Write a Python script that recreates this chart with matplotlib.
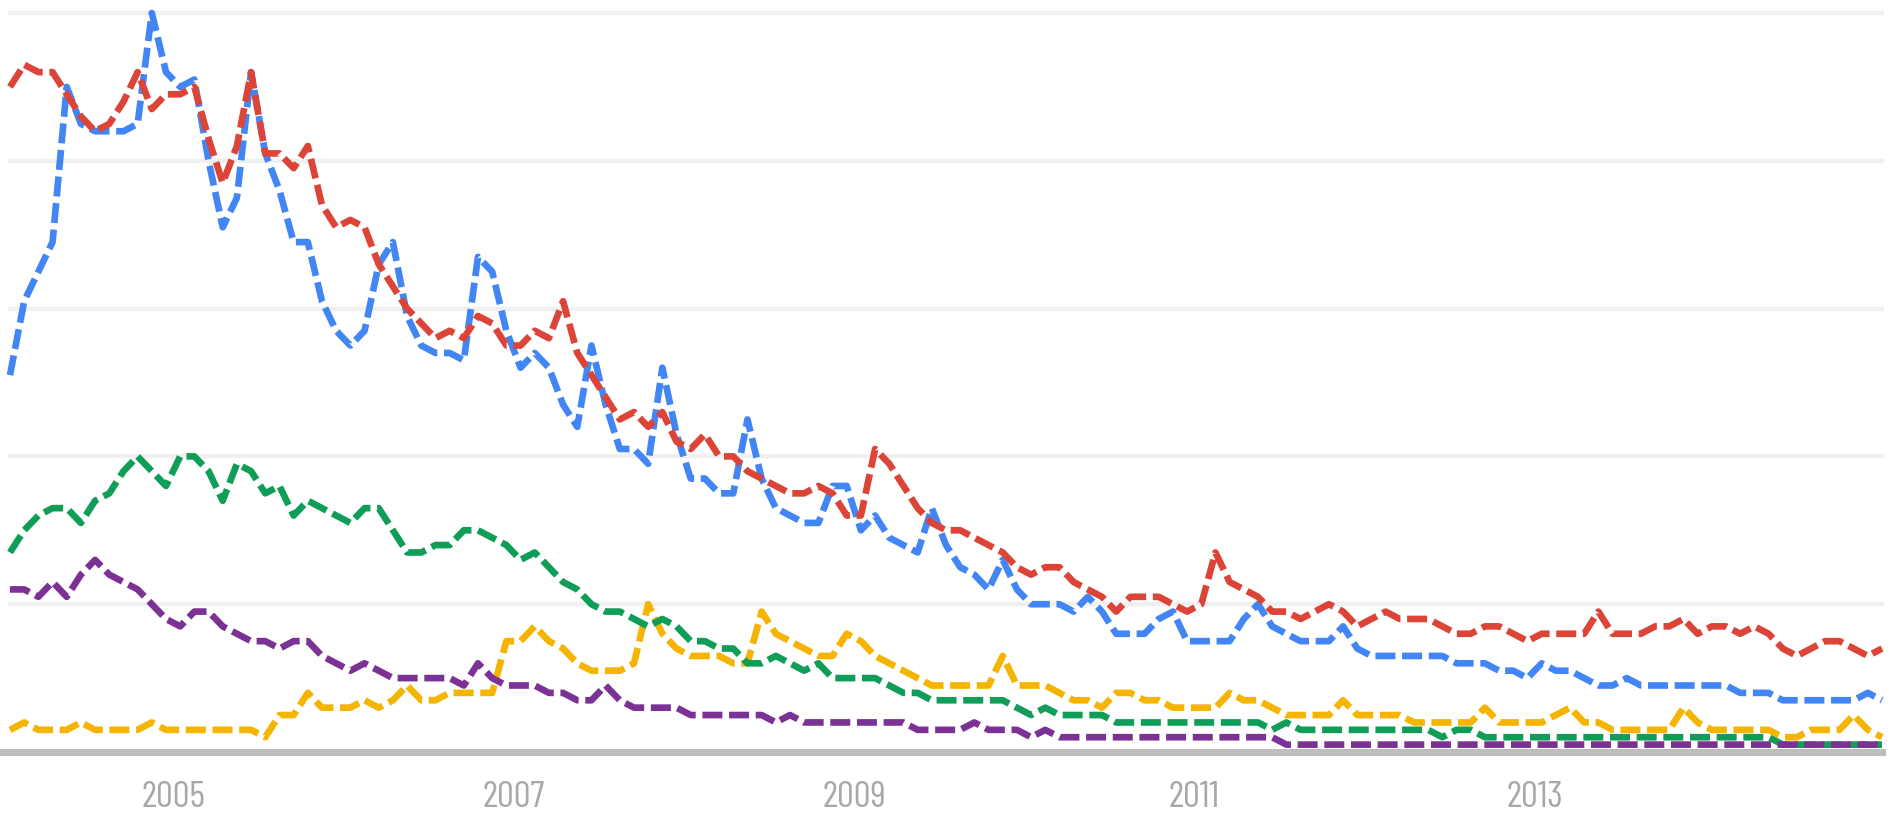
import matplotlib.pyplot as plt
import numpy as np

# monthly values, Jan 2004 .. Jan 2015 (133 points)
blue = [51, 61, 65, 69, 90, 85, 84, 84, 84, 85, 100, 92, 90, 91, 80, 71, 75, 92, 81, 76,
        69, 69, 61, 57, 55, 57, 66, 69, 59, 55, 54, 54, 53, 67, 65, 57, 52, 54, 52, 47,
        44, 55, 47, 41, 41, 39, 52, 43, 37, 37, 35, 35, 45, 37, 33, 32, 31, 31, 36, 36,
        30, 32, 29, 28, 27, 33, 28, 25, 24, 22, 26, 22, 20, 20, 20, 19, 21, 19, 16, 16,
        16, 18, 19, 15, 15, 15, 15, 18, 20, 17, 16, 15, 15, 15, 17, 14, 13, 13, 13, 13,
        13, 13, 12, 12, 12, 11, 11, 10, 12, 11, 11, 10, 9, 9, 10, 9, 9, 9, 9, 9,
        9, 9, 8, 8, 8, 7, 7, 7, 7, 7, 7, 8, 7]
red = [90, 93, 92, 92, 89, 86, 84, 85, 88, 92, 87, 89, 89, 90, 83, 77, 82, 92, 81, 81,
       79, 82, 74, 71, 72, 71, 66, 63, 60, 58, 56, 57, 56, 59, 58, 55, 55, 57, 56, 61,
       54, 51, 48, 45, 46, 44, 46, 42, 41, 43, 40, 40, 38, 37, 36, 35, 35, 36, 35, 32,
       32, 41, 39, 36, 33, 31, 30, 30, 29, 28, 27, 25, 24, 25, 25, 23, 22, 21, 19, 21,
       21, 21, 20, 19, 20, 27, 23, 22, 21, 19, 19, 18, 19, 20, 19, 17, 18, 19, 18, 18,
       18, 17, 16, 16, 17, 17, 16, 15, 16, 16, 16, 16, 19, 16, 16, 16, 17, 17, 18, 16,
       17, 17, 16, 17, 16, 14, 13, 14, 15, 15, 14, 13, 14]
yellow = [3, 4, 3, 3, 3, 4, 3, 3, 3, 3, 4, 3, 3, 3, 3, 3, 3, 3, 2, 5,
          5, 8, 6, 6, 6, 7, 6, 7, 9, 7, 7, 8, 8, 8, 8, 15, 15, 17, 15, 14,
          12, 11, 11, 11, 12, 20, 16, 14, 13, 13, 13, 12, 12, 19, 16, 15, 14, 13, 13, 16,
          15, 13, 12, 11, 10, 9, 9, 9, 9, 9, 13, 9, 9, 9, 8, 7, 7, 6, 8, 8,
          7, 7, 6, 6, 6, 6, 8, 7, 7, 6, 5, 5, 5, 5, 7, 5, 5, 5, 5, 4,
          4, 4, 4, 4, 6, 4, 4, 4, 4, 5, 6, 4, 4, 3, 3, 3, 3, 3, 6, 4,
          3, 3, 3, 3, 3, 2, 2, 3, 3, 3, 5, 3, 2]
green = [27, 30, 32, 33, 33, 31, 34, 35, 38, 40, 38, 36, 40, 40, 38, 34, 39, 38, 35, 36,
         32, 34, 33, 32, 31, 33, 33, 30, 27, 27, 28, 28, 30, 30, 29, 28, 26, 27, 25, 23,
         22, 20, 19, 19, 18, 17, 18, 17, 15, 15, 14, 14, 12, 12, 13, 12, 11, 12, 10, 10,
         10, 10, 9, 8, 8, 7, 7, 7, 7, 7, 7, 6, 5, 6, 5, 5, 5, 5, 4, 4,
         4, 4, 4, 4, 4, 4, 4, 4, 4, 3, 4, 3, 3, 3, 3, 3, 3, 3, 3, 3,
         3, 2, 3, 3, 2, 2, 2, 2, 2, 2, 2, 2, 2, 2, 2, 2, 2, 2, 2, 2,
         2, 2, 2, 2, 2, 1, 1, 1, 1, 1, 1, 1, 1]
purple = [22, 22, 21, 23, 21, 24, 26, 24, 23, 22, 20, 18, 17, 19, 19, 17, 16, 15, 15, 14,
          15, 15, 13, 12, 11, 12, 11, 10, 10, 10, 10, 10, 9, 12, 10, 9, 9, 9, 8, 8,
          7, 7, 9, 7, 6, 6, 6, 6, 5, 5, 5, 5, 5, 5, 4, 5, 4, 4, 4, 4,
          4, 4, 4, 4, 3, 3, 3, 3, 4, 3, 3, 3, 2, 3, 2, 2, 2, 2, 2, 2,
          2, 2, 2, 2, 2, 2, 2, 2, 2, 2, 1, 1, 1, 1, 1, 1, 1, 1, 1, 1,
          1, 1, 1, 1, 1, 1, 1, 1, 1, 1, 1, 1, 1, 1, 1, 1, 1, 1, 1, 1,
          1, 1, 1, 1, 1, 1, 1, 1, 1, 1, 1, 1, 1]

tick_years = [2005, 2007, 2009, 2011, 2013]

series = [(blue, '#4285F4'), (red, '#DB4437'), (yellow, '#F4B400'),
          (green, '#0F9D58'), (purple, '#7B3294')]

x = 2004 + (np.arange(len(blue)) + 0.5) / 12

fig = plt.figure(figsize=(18.99, 8.19), dpi=100)
ax = fig.add_axes([10 / 1899, 67 / 819, 1872 / 1899, 739 / 819])

for v in [20, 40, 60, 80, 100]:
    ax.axhline(v, color='#f0f0f0', lw=3.2, zorder=0, clip_on=False)

for vals, col in series:
    ax.plot(x, vals, color=col, lw=4.8, dashes=(3.0, 1.0), clip_on=False)

ax.axhline(0, xmin=-0.01, xmax=1.0, color='#bdbdbd', lw=5, zorder=5, clip_on=False)

ax.set_xlim(x[0], x[0] + 11)
ax.set_ylim(0, 100)
ax.set_yticks([])
ax.set_xticks(tick_years)
ax.set_xticklabels([str(t) for t in tick_years])
ax.tick_params(axis='x', length=0, pad=21, labelsize=27, labelcolor='#a8a8a8')
for lab in ax.get_xticklabels():
    lab.set_family(['Barlow Condensed', 'DejaVu Sans'])
for s in ax.spines.values():
    s.set_visible(False)

fig.savefig('out.png', dpi=100)
